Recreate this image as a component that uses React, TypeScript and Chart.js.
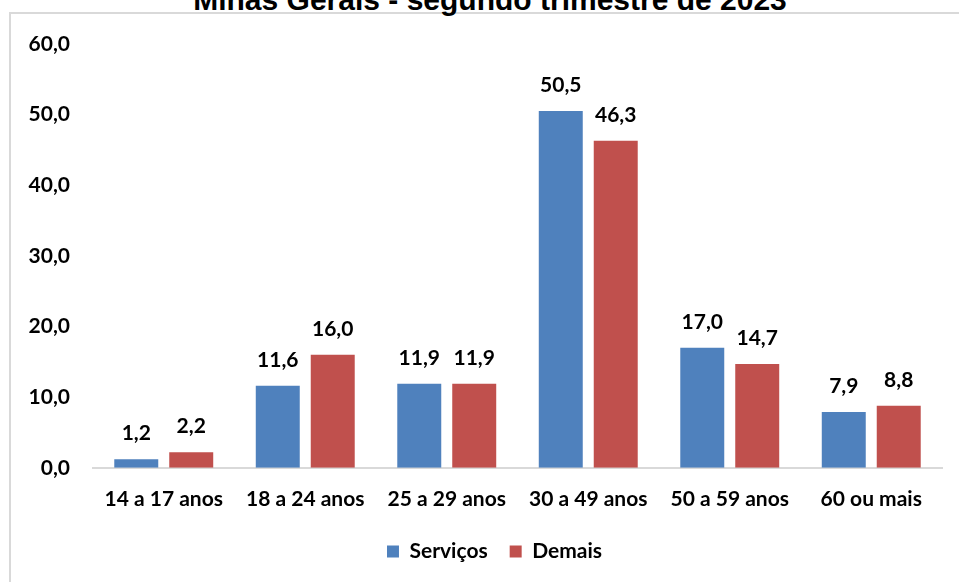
import React, { useEffect, useRef } from "react";
import { Chart, registerables } from "chart.js";

Chart.register(...registerables);

const titleText = "Minas Gerais - segundo trimestre de 2023";
const categories = ["14 a 17 anos", "18 a 24 anos", "25 a 29 anos", "30 a 49 anos", "50 a 59 anos", "60 ou mais"];
const servicos = [1.2, 11.6, 11.9, 50.5, 17.0, 7.9];
const demais = [2.2, 16.0, 11.9, 46.3, 14.7, 8.8];
const seriesNames = ["Serviços", "Demais"];
const yTicks = [0, 10, 20, 30, 40, 50, 60];

const FONT = "Lato, 'Open Sans', sans-serif";
const FS = 21;
const fmt = (v: number) => v.toFixed(1).replace(".", ",");

const valueLabels = {
  id: "valueLabels",
  afterDatasetsDraw(chart: any) {
    const ctx = chart.ctx;
    ctx.save();
    ctx.font = `bold ${FS}px ${FONT}`;
    ctx.fillStyle = "#000";
    ctx.textAlign = "center";
    ctx.textBaseline = "alphabetic";
    chart.data.datasets.forEach((ds: any, i: number) => {
      const meta = chart.getDatasetMeta(i);
      meta.data.forEach((el: any, j: number) => {
        ctx.fillText(fmt(ds.data[j]), el.x, el.y - 19);
      });
    });
    ctx.restore();
  },
};

const legendShift = {
  id: "legendShift",
  afterLayout(chart: any) {
    if (chart.legend) chart.legend.left += 47;
  },
};

export default function App() {
  const ref = useRef<HTMLCanvasElement | null>(null);
  useEffect(() => {
    if (!ref.current) return;
    const chart = new Chart(ref.current, {
      type: "bar",
      data: {
        labels: categories,
        datasets: [
          { label: seriesNames[0], data: servicos, backgroundColor: "#4F81BD", borderWidth: 0 },
          { label: seriesNames[1], data: demais, backgroundColor: "#C0504D", borderWidth: 0 },
        ],
      },
      options: {
        animation: false,
        responsive: false,
        maintainAspectRatio: false,
        layout: { padding: { left: 0, right: 17, top: 44, bottom: 10 } },
        datasets: { bar: { categoryPercentage: 0.777, barPercentage: 0.8 } },
        scales: {
          x: {
            afterFit: (s: any) => { s.height = s.height - 12; },
            grid: { display: false, drawTicks: false },
            border: { display: true, color: "#d9d9d9", width: 2 },
            ticks: { color: "#000", font: { family: FONT, size: FS, weight: "bold" }, padding: 19, maxRotation: 0 },
          },
          y: {
            min: 0,
            max: 60,
            afterFit: (s: any) => { s.width = 93; },
            afterBuildTicks: (s: any) => { s.ticks = yTicks.map((v) => ({ value: v })); },
            grid: { display: false, drawTicks: false },
            border: { display: false },
            ticks: {
              color: "#000",
              font: { family: FONT, size: FS, weight: "bold" },
              padding: 23,
              callback: (v: any) => fmt(Number(v)),
            },
          },
        },
        plugins: {
          title: { display: false },
          tooltip: { enabled: false },
          legend: {
            position: "bottom",
            labels: {
              boxWidth: 12,
              boxHeight: 12,
              padding: 22,
              color: "#000",
              font: { family: FONT, size: FS, weight: "bold" },
            },
          },
        },
      },
      plugins: [valueLabels, legendShift],
    });
    return () => chart.destroy();
  }, []);

  return (
    <div style={{ position: "fixed", left: 0, top: 0, width: 959, height: 582, overflow: "hidden", background: "#fff" }}>
      <div
        style={{
          position: "absolute",
          left: 9,
          top: 12,
          width: 1000,
          height: 700,
          borderLeft: "2px solid #d9d9d9",
          borderTop: "2px solid #d9d9d9",
        }}
      />
      <div
        style={{
          position: "absolute",
          left: 0,
          top: -15,
          width: 980,
          textAlign: "center",
          fontFamily: "'Liberation Sans', Arial, sans-serif",
          fontWeight: "bold",
          fontSize: 30,
          lineHeight: "30px",
          color: "#000",
          whiteSpace: "nowrap",
        }}
      >
        {titleText}
      </div>
      <canvas ref={ref} width={959} height={582} style={{ position: "absolute", left: 0, top: 0, width: 959, height: 582 }} />
    </div>
  );
}
